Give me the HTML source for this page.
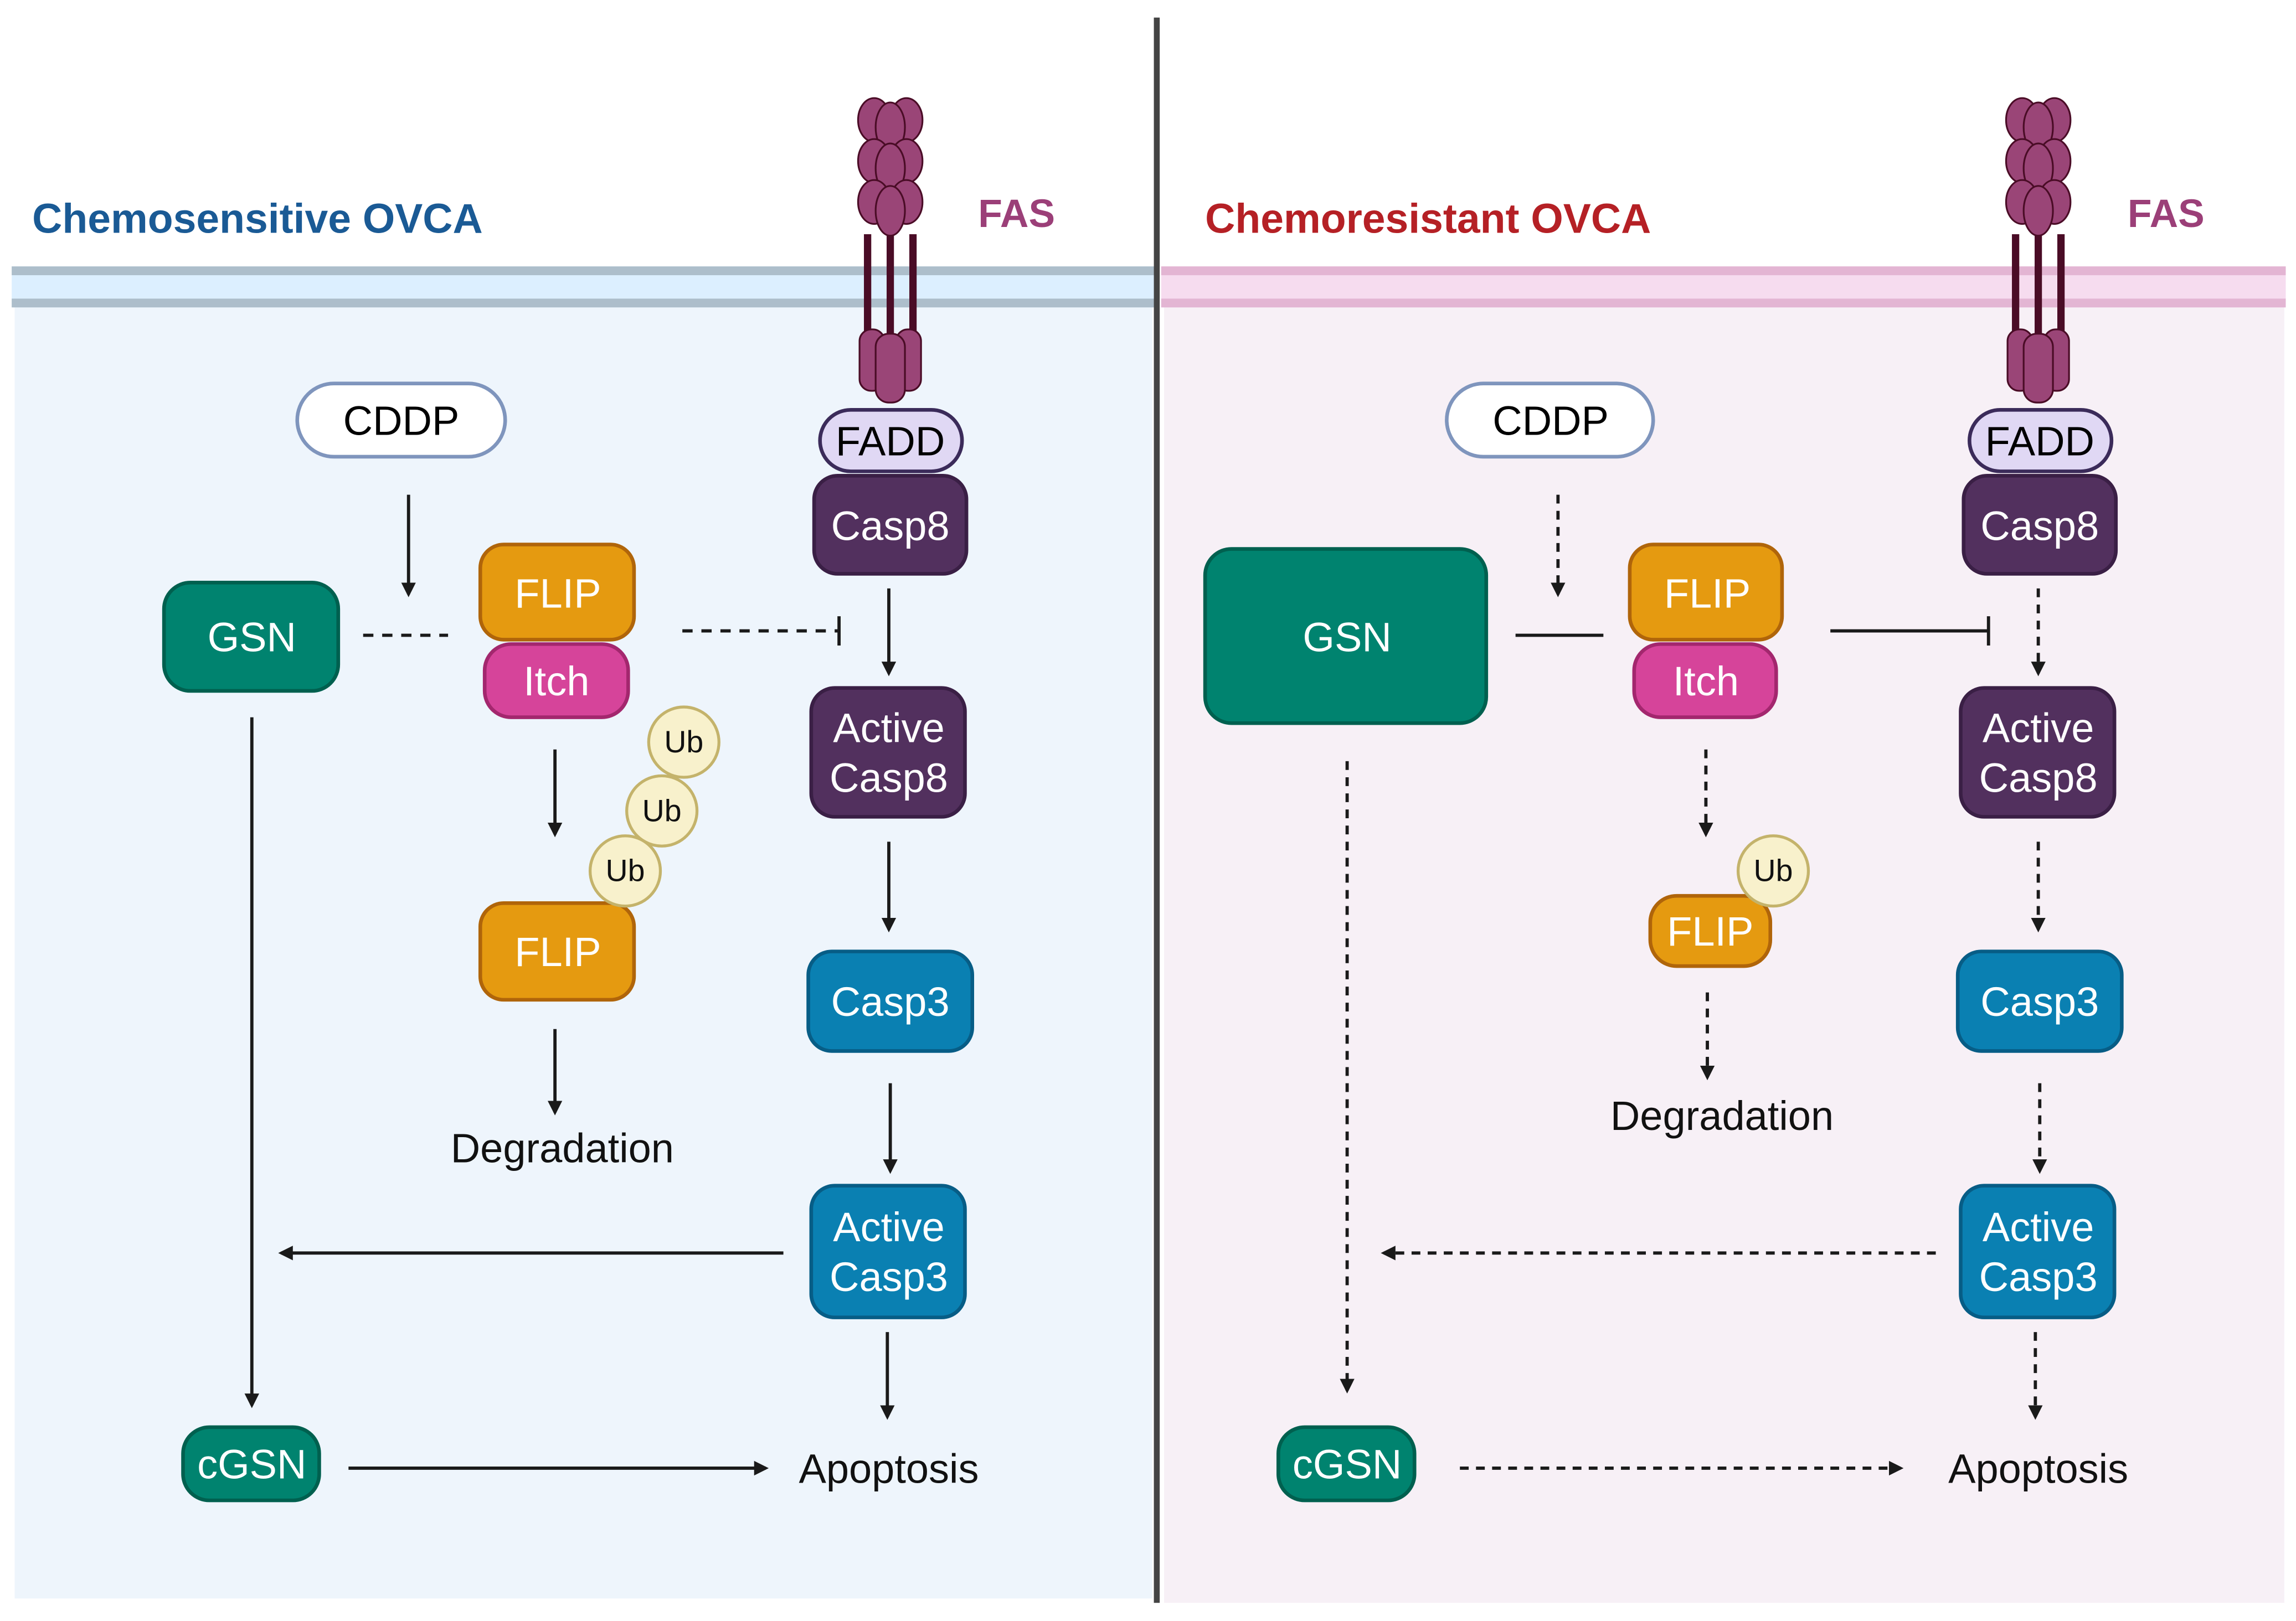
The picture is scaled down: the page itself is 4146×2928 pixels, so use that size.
<!DOCTYPE html>
<html><head><meta charset="utf-8"><style>html,body{margin:0;padding:0;background:#fff}svg{display:block}</style></head>
<body>
<svg width="4146" height="2928" viewBox="0 0 1568 1107.4" preserveAspectRatio="none" xmlns="http://www.w3.org/2000/svg" font-family="Liberation Sans, sans-serif">
<defs>
<marker id="ah" markerWidth="10" markerHeight="10" refX="8" refY="5" orient="auto" markerUnits="userSpaceOnUse"><path d="M0,0 L10,5 L0,10 z" fill="#1a1a1a"/></marker>
<g id="fas">
  <rect x="-18" y="0" width="5" height="70" fill="#4a0c26"/>
  <rect x="-2.5" y="0" width="5" height="70" fill="#4a0c26"/>
  <rect x="13" y="0" width="5" height="70" fill="#4a0c26"/>
  <g fill="#9a4577" stroke="#4a0c26" stroke-width="1.2">
    <ellipse cx="-11" cy="-78" rx="11" ry="15"/><ellipse cx="11" cy="-78" rx="11" ry="15"/><ellipse cx="0" cy="-73" rx="10" ry="17"/>
    <ellipse cx="-11" cy="-50" rx="11" ry="15"/><ellipse cx="11" cy="-50" rx="11" ry="15"/><ellipse cx="0" cy="-45" rx="10" ry="17"/>
    <ellipse cx="-11" cy="-22" rx="11" ry="15"/><ellipse cx="11" cy="-22" rx="11" ry="15"/><ellipse cx="0" cy="-16" rx="10" ry="17"/>
    <rect x="-21" y="65" width="17" height="42" rx="8"/><rect x="4" y="65" width="17" height="42" rx="8"/><rect x="-10" y="68" width="20" height="47" rx="9"/>
  </g>
</g>
</defs>
<rect x="10" y="185" width="777" height="907" fill="#eef5fc"/>
<rect x="795" y="185" width="765" height="910" fill="#f7f0f6"/>
<rect x="8" y="182" width="782" height="28" fill="#dcefff"/>
<rect x="8" y="182" width="782" height="6" fill="#adbecb"/>
<rect x="8" y="204" width="782" height="6" fill="#adbecb"/>
<rect x="793" y="182" width="768" height="28" fill="#f6dcef"/>
<rect x="793" y="182" width="768" height="6" fill="#e3b5d3"/>
<rect x="793" y="204" width="768" height="6" fill="#e3b5d3"/>
<rect x="788" y="12" width="4" height="1083" fill="#444"/>
<text x="22" y="159" font-size="28.4" font-weight="bold" fill="#1a5a95">Chemosensitive OVCA</text>
<text x="823" y="159" font-size="28.4" font-weight="bold" fill="#b52025">Chemoresistant OVCA</text>
<text x="668" y="155" font-size="27" font-weight="bold" fill="#9b3f78">FAS</text>
<text x="1453" y="155" font-size="27" font-weight="bold" fill="#9b3f78">FAS</text>
<use href="#fas" x="608" y="160"/>
<use href="#fas" x="1392" y="160"/>

<g font-size="28" text-anchor="middle">
<rect x="203" y="262" width="142" height="50" rx="25" fill="#fff" stroke="#7f95bd" stroke-width="2.5"/>
<text x="274" y="297">CDDP</text>
<rect x="560" y="280" width="97" height="42" rx="21" fill="#e0d8f4" stroke="#3b2b5a" stroke-width="2.5"/>
<text x="608" y="311">FADD</text>
<rect x="556" y="325" width="104" height="67" rx="16" fill="#52305e" stroke="#3a1f45" stroke-width="2.5"/>
<text x="608" y="369" fill="#fff">Casp8</text>
<rect x="554" y="470" width="105" height="88" rx="16" fill="#52305e" stroke="#3a1f45" stroke-width="2.5"/>
<text x="607" y="507" fill="#fff">Active</text><text x="607" y="541" fill="#fff">Casp8</text>
<rect x="552" y="650" width="112" height="68" rx="16" fill="#0a80b2" stroke="#075d86" stroke-width="2.5"/>
<text x="608" y="694" fill="#fff">Casp3</text>
<rect x="554" y="810" width="105" height="90" rx="16" fill="#0a80b2" stroke="#075d86" stroke-width="2.5"/>
<text x="607" y="848" fill="#fff">Active</text><text x="607" y="882" fill="#fff">Casp3</text>
<text x="607" y="1013" fill="#111">Apoptosis</text>
<rect x="112" y="398" width="119" height="74" rx="18" fill="#00836f" stroke="#00604f" stroke-width="2.5"/>
<text x="172" y="445" fill="#fff">GSN</text>
<rect x="328" y="372" width="105" height="65" rx="16" fill="#e59a10" stroke="#b0650a" stroke-width="2.5"/>
<text x="381" y="415" fill="#fff">FLIP</text>
<rect x="331" y="440" width="98" height="50" rx="18" fill="#d6449a" stroke="#a3276e" stroke-width="2.5"/>
<text x="380" y="475" fill="#fff">Itch</text>
<rect x="328" y="617" width="105" height="66" rx="16" fill="#e59a10" stroke="#b0650a" stroke-width="2.5"/>
<text x="381" y="660" fill="#fff">FLIP</text>
<g fill="#f8f1cc" stroke="#c4b36b" stroke-width="2"><circle cx="467" cy="507" r="24"/><circle cx="452" cy="554" r="24"/><circle cx="427" cy="595" r="24"/></g>
<g font-size="21" fill="#111"><text x="467" y="514">Ub</text><text x="452" y="561">Ub</text><text x="427" y="602">Ub</text></g>
<text x="384" y="794" fill="#111">Degradation</text>
<rect x="125" y="975" width="93" height="50" rx="18" fill="#00836f" stroke="#00604f" stroke-width="2.5"/>
<text x="172" y="1010" fill="#fff">cGSN</text>

<rect x="988" y="262" width="141" height="50" rx="25" fill="#fff" stroke="#7f95bd" stroke-width="2.5"/>
<text x="1059" y="297">CDDP</text>
<rect x="1345" y="280" width="97" height="42" rx="21" fill="#e0d8f4" stroke="#3b2b5a" stroke-width="2.5"/>
<text x="1393" y="311">FADD</text>
<rect x="1341" y="325" width="104" height="67" rx="16" fill="#52305e" stroke="#3a1f45" stroke-width="2.5"/>
<text x="1393" y="369" fill="#fff">Casp8</text>
<rect x="1339" y="470" width="105" height="88" rx="16" fill="#52305e" stroke="#3a1f45" stroke-width="2.5"/>
<text x="1392" y="507" fill="#fff">Active</text><text x="1392" y="541" fill="#fff">Casp8</text>
<rect x="1337" y="650" width="112" height="68" rx="16" fill="#0a80b2" stroke="#075d86" stroke-width="2.5"/>
<text x="1393" y="694" fill="#fff">Casp3</text>
<rect x="1339" y="810" width="105" height="90" rx="16" fill="#0a80b2" stroke="#075d86" stroke-width="2.5"/>
<text x="1392" y="848" fill="#fff">Active</text><text x="1392" y="882" fill="#fff">Casp3</text>
<text x="1392" y="1013" fill="#111">Apoptosis</text>
<rect x="823" y="375" width="192" height="119" rx="18" fill="#00836f" stroke="#00604f" stroke-width="2.5"/>
<text x="920" y="445" fill="#fff">GSN</text>
<rect x="1113" y="372" width="104" height="65" rx="16" fill="#e59a10" stroke="#b0650a" stroke-width="2.5"/>
<text x="1166" y="415" fill="#fff">FLIP</text>
<rect x="1116" y="440" width="97" height="50" rx="18" fill="#d6449a" stroke="#a3276e" stroke-width="2.5"/>
<text x="1165" y="475" fill="#fff">Itch</text>
<rect x="1127" y="612" width="82" height="48" rx="18" fill="#e59a10" stroke="#b0650a" stroke-width="2.5"/>
<text x="1168" y="646" fill="#fff">FLIP</text>
<circle cx="1211" cy="595" r="24" fill="#f8f1cc" stroke="#c4b36b" stroke-width="2"/>
<text x="1211" y="602" font-size="21" fill="#111">Ub</text>
<text x="1176" y="772" fill="#111">Degradation</text>
<rect x="873" y="975" width="93" height="50" rx="18" fill="#00836f" stroke="#00604f" stroke-width="2.5"/>
<text x="920" y="1010" fill="#fff">cGSN</text>
</g>

<g stroke="#1a1a1a" stroke-width="2.2" fill="none">
<line x1="279" y1="338" x2="279" y2="406" marker-end="url(#ah)"/>
<line x1="248" y1="434" x2="306" y2="434" stroke-dasharray="7,6"/>
<line x1="466" y1="431" x2="572" y2="431" stroke-dasharray="7,6"/>
<line x1="573" y1="421" x2="573" y2="441"/>
<line x1="607" y1="402" x2="607" y2="460" marker-end="url(#ah)"/>
<line x1="379" y1="512" x2="379" y2="570" marker-end="url(#ah)"/>
<line x1="607" y1="575" x2="607" y2="635" marker-end="url(#ah)"/>
<line x1="379" y1="703" x2="379" y2="760" marker-end="url(#ah)"/>
<line x1="608" y1="740" x2="608" y2="800" marker-end="url(#ah)"/>
<line x1="535" y1="856" x2="192" y2="856" marker-end="url(#ah)"/>
<line x1="172" y1="490" x2="172" y2="960" marker-end="url(#ah)"/>
<line x1="606" y1="910" x2="606" y2="968" marker-end="url(#ah)"/>
<line x1="238" y1="1003" x2="523" y2="1003" marker-end="url(#ah)"/>
</g>
<g stroke="#1a1a1a" stroke-width="2.2" fill="none">
<line x1="1064" y1="338" x2="1064" y2="406" stroke-dasharray="6,5" marker-end="url(#ah)"/>
<line x1="1035" y1="434" x2="1095" y2="434"/>
<line x1="1250" y1="431" x2="1357" y2="431"/>
<line x1="1358" y1="421" x2="1358" y2="441"/>
<line x1="1392" y1="402" x2="1392" y2="460" stroke-dasharray="6,5" marker-end="url(#ah)"/>
<line x1="1165" y1="512" x2="1165" y2="570" stroke-dasharray="6,5" marker-end="url(#ah)"/>
<line x1="1392" y1="575" x2="1392" y2="635" stroke-dasharray="6,5" marker-end="url(#ah)"/>
<line x1="1166" y1="678" x2="1166" y2="736" stroke-dasharray="6,5" marker-end="url(#ah)"/>
<line x1="1393" y1="740" x2="1393" y2="800" stroke-dasharray="6,5" marker-end="url(#ah)"/>
<line x1="1322" y1="856" x2="945" y2="856" stroke-dasharray="6,5" marker-end="url(#ah)"/>
<line x1="920" y1="520" x2="920" y2="950" stroke-dasharray="6,5" marker-end="url(#ah)"/>
<line x1="1390" y1="910" x2="1390" y2="968" stroke-dasharray="6,5" marker-end="url(#ah)"/>
<line x1="997" y1="1003" x2="1298" y2="1003" stroke-dasharray="6,5" marker-end="url(#ah)"/>
</g>
</svg>
</body></html>
